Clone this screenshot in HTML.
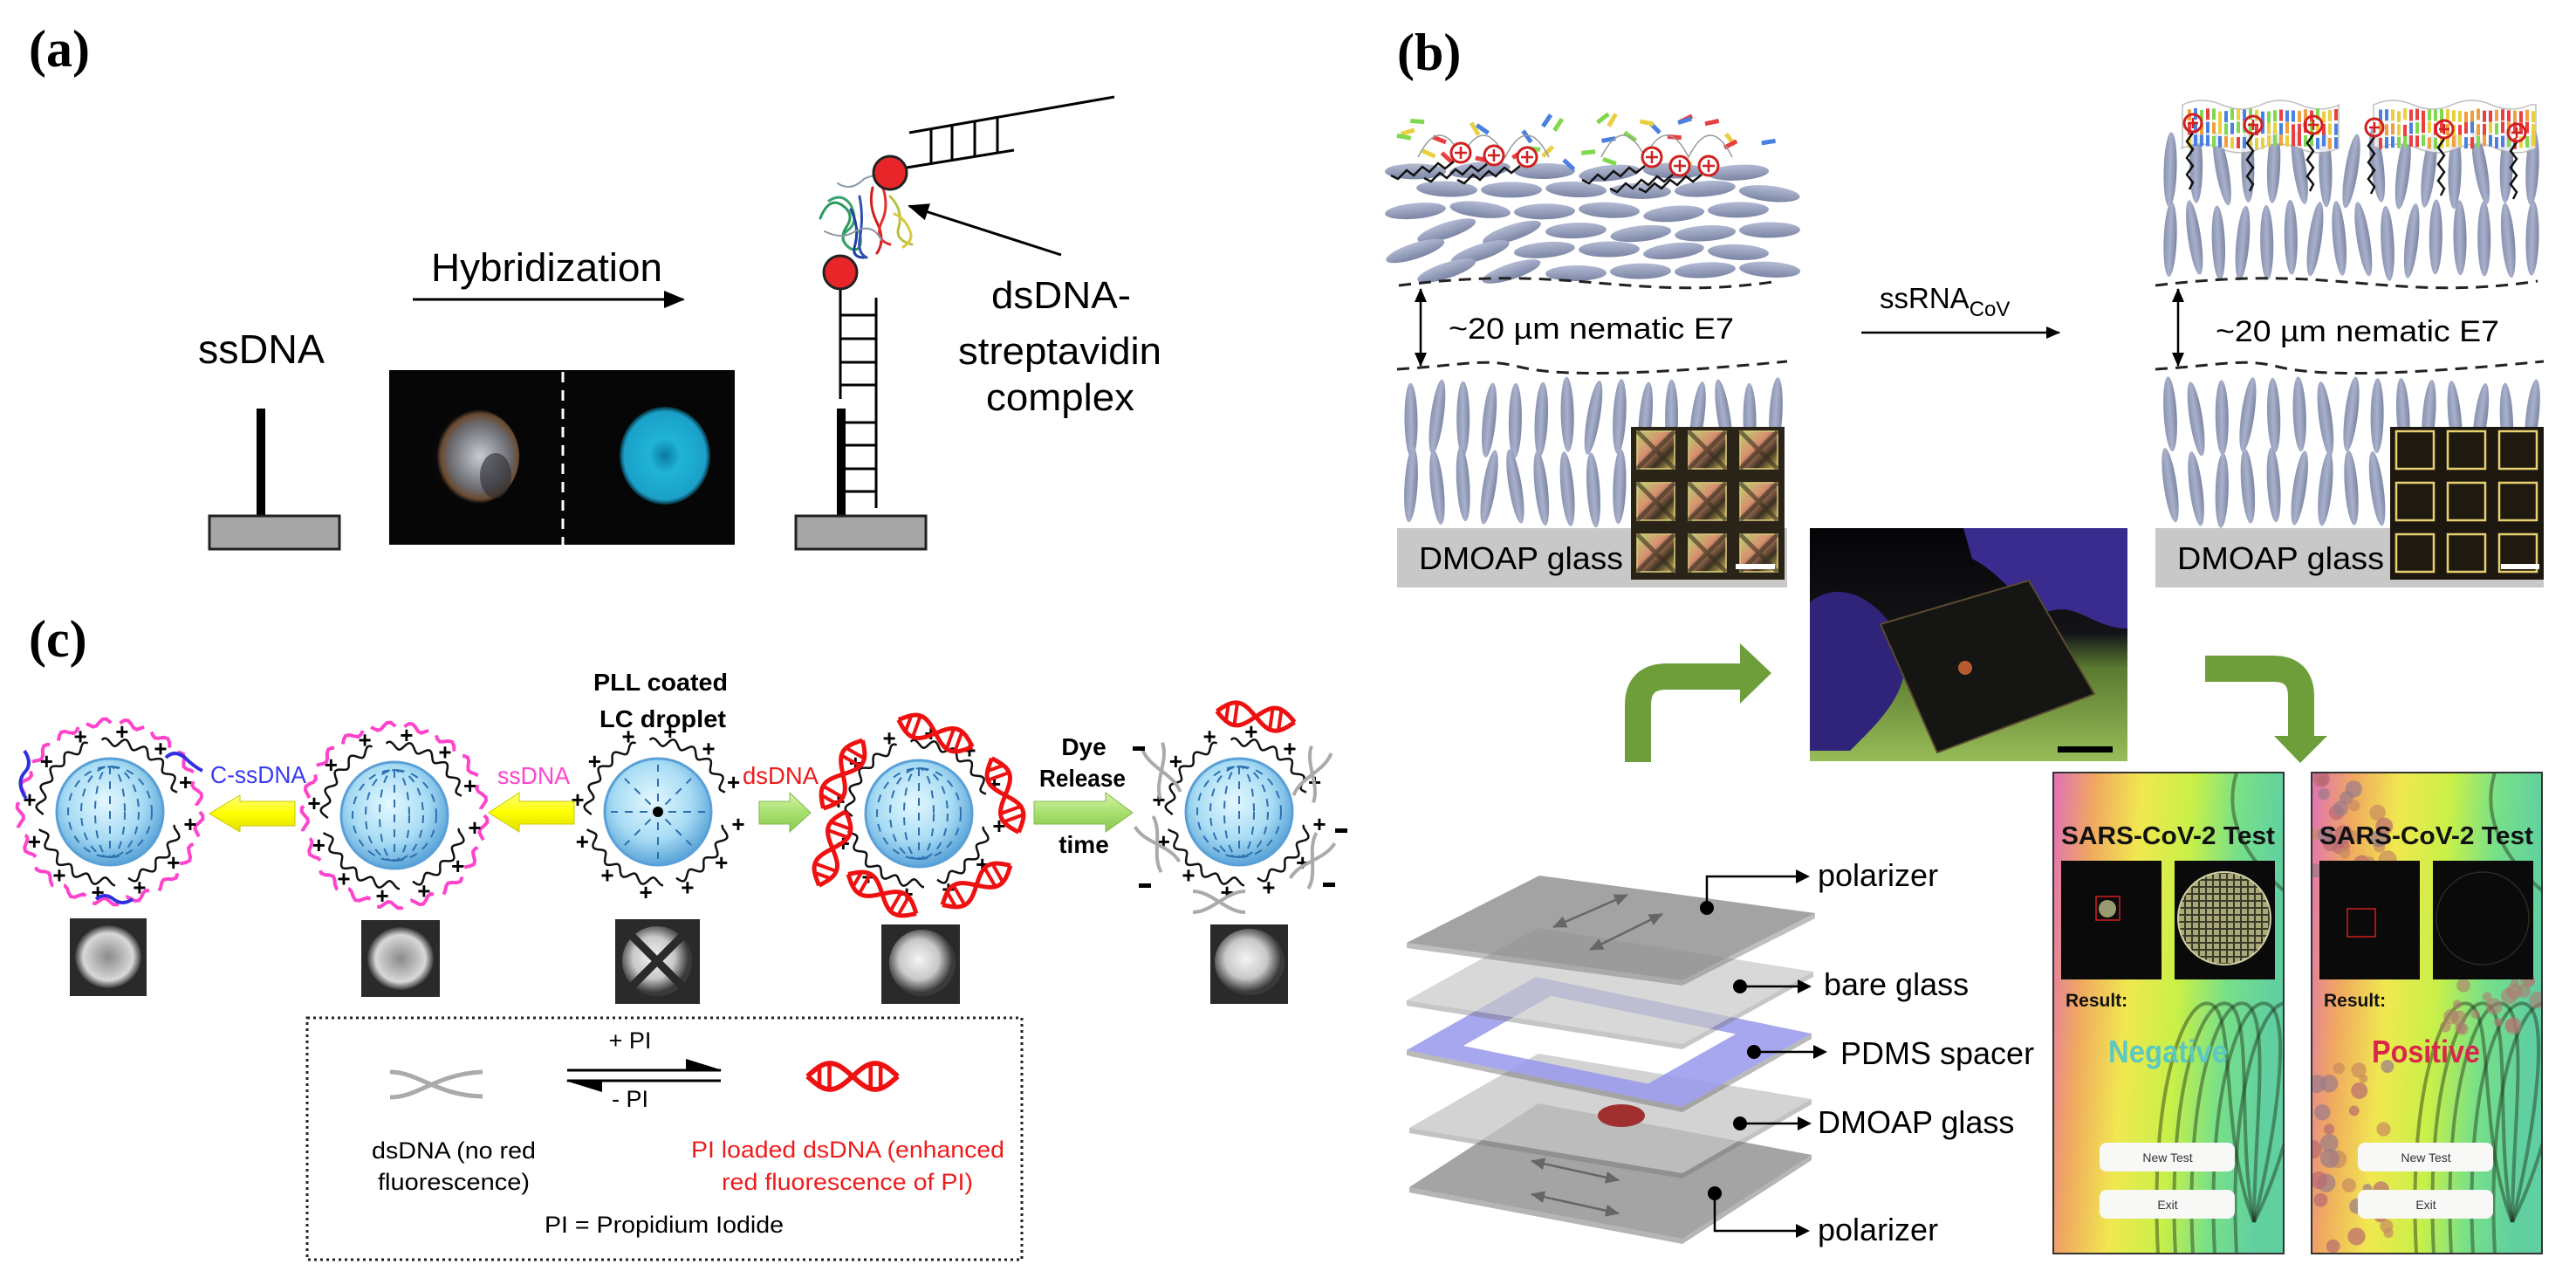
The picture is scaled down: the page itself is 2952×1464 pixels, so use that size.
<!DOCTYPE html>
<html><head><meta charset="utf-8">
<style>
html,body{margin:0;padding:0;background:#fff;}
svg{display:block;}
.s{font-family:"Liberation Sans",Arial,sans-serif;}
.r{font-family:"Liberation Serif","Times New Roman",serif;font-weight:bold;}
</style></head>
<body>
<svg id="root" width="2952" height="1464" viewBox="0 0 2952 1464" xmlns="http://www.w3.org/2000/svg">
<defs>
<radialGradient id="sph" cx="45%" cy="40%" r="60%">
<stop offset="0" stop-color="#e4f8ff"/><stop offset="0.6" stop-color="#a8dcf4"/><stop offset="1" stop-color="#5aa4d8"/>
</radialGradient>
<radialGradient id="blobw" cx="45%" cy="45%" r="50%">
<stop offset="0" stop-color="#f4f4f4"/><stop offset="0.6" stop-color="#c8c8c8"/><stop offset="1" stop-color="#3a3a3a"/>
</radialGradient>
<radialGradient id="blobg" cx="50%" cy="50%" r="50%">
<stop offset="0" stop-color="#8a8a8a"/><stop offset="0.75" stop-color="#d8d8d8"/><stop offset="1" stop-color="#3a3a3a"/>
</radialGradient>
<radialGradient id="cyan" cx="50%" cy="50%" r="50%">
<stop offset="0" stop-color="#0a7aa0"/><stop offset="0.35" stop-color="#20b4d8"/><stop offset="0.9" stop-color="#1aa0c8"/><stop offset="1" stop-color="#05303c"/>
</radialGradient>
<radialGradient id="gray1" cx="55%" cy="50%" r="50%">
<stop offset="0" stop-color="#c8ccd4"/><stop offset="0.7" stop-color="#6a6a70"/><stop offset="0.9" stop-color="#6a4a30"/><stop offset="1" stop-color="#080808"/>
</radialGradient>
<linearGradient id="ell" x1="0" y1="0" x2="0" y2="1">
<stop offset="0" stop-color="#b4bcd4"/><stop offset="1" stop-color="#7a84a4"/>
</linearGradient>
<linearGradient id="ellv" x1="0" y1="0" x2="1" y2="0">
<stop offset="0" stop-color="#8892b0"/><stop offset="0.5" stop-color="#a8b0ca"/><stop offset="1" stop-color="#7a84a4"/>
</linearGradient>
<linearGradient id="yel" x1="0" y1="0" x2="0" y2="1">
<stop offset="0" stop-color="#ffff80"/><stop offset="0.5" stop-color="#ffff00"/><stop offset="1" stop-color="#e0e000"/>
</linearGradient>
<linearGradient id="grn" x1="0" y1="0" x2="0" y2="1">
<stop offset="0" stop-color="#d8f4a8"/><stop offset="0.5" stop-color="#a8e070"/><stop offset="1" stop-color="#88c850"/>
</linearGradient>
<linearGradient id="phone" x1="0" y1="0" x2="1" y2="0.15">
<stop offset="0" stop-color="#e070b8"/><stop offset="0.18" stop-color="#f0a860"/><stop offset="0.38" stop-color="#f0e850"/><stop offset="0.6" stop-color="#c8f048"/><stop offset="0.8" stop-color="#78e088"/><stop offset="1" stop-color="#60d0a0"/>
</linearGradient>
<linearGradient id="photo" x1="0" y1="0" x2="0" y2="1">
<stop offset="0" stop-color="#050508"/><stop offset="0.45" stop-color="#141418"/><stop offset="0.6" stop-color="#5a7a30"/><stop offset="1" stop-color="#98bc58"/>
</linearGradient>
<linearGradient id="sqc" x1="0" y1="0" x2="1" y2="1">
<stop offset="0" stop-color="#b8d070"/><stop offset="0.4" stop-color="#d89070"/><stop offset="0.7" stop-color="#3a3020"/><stop offset="1" stop-color="#d8c060"/>
</linearGradient>
<pattern id="grid" width="8" height="8" patternUnits="userSpaceOnUse"><rect width="8" height="8" fill="#3a3a28"/><rect x="1" y="1" width="6" height="6" fill="#a8a878"/></pattern>
<marker id="ah" markerWidth="10" markerHeight="10" refX="9" refY="5" orient="auto" markerUnits="userSpaceOnUse"><path d="M0,0 L10,5 L0,10 z" fill="#000"/></marker>
<marker id="ahb" markerWidth="24" markerHeight="20" refX="22" refY="10" orient="auto" markerUnits="userSpaceOnUse"><path d="M0,0 L24,10 L0,20 z" fill="#000"/></marker>
<marker id="ahs" markerWidth="16" markerHeight="14" refX="15" refY="7" orient="auto-start-reverse" markerUnits="userSpaceOnUse"><path d="M0,0 L16,7 L0,14 z" fill="#000"/></marker>
<marker id="ahg" markerWidth="16" markerHeight="14" refX="15" refY="7" orient="auto-start-reverse" markerUnits="userSpaceOnUse"><path d="M0,0 L16,7 L0,14 z" fill="#666"/></marker>
<clipPath id="ph1"><rect x="2353" y="885" width="263" height="551"/></clipPath>
<clipPath id="ph2"><rect x="2649" y="885" width="264" height="551"/></clipPath>
</defs>

<!-- ============ PANEL A ============ -->
<text class="r" x="33" y="76" font-size="60">(a)</text>
<text class="s" x="494" y="322" font-size="45" textLength="265" lengthAdjust="spacingAndGlyphs">Hybridization</text>
<line x1="473" y1="343" x2="783" y2="343" stroke="#000" stroke-width="3" marker-end="url(#ahb)"/>
<text class="s" x="227" y="416" font-size="46" textLength="145" lengthAdjust="spacingAndGlyphs">ssDNA</text>
<rect x="294" y="468" width="10" height="123" fill="#000"/>
<rect x="240" y="591" width="149" height="38" fill="#a6a6a6" stroke="#222" stroke-width="3"/>
<rect x="446" y="424" width="396" height="200" fill="#060606"/>
<ellipse cx="545" cy="523" rx="50" ry="54" fill="url(#gray1)"/>
<ellipse cx="568" cy="545" rx="18" ry="26" fill="#2a2a30" opacity="0.6"/>
<ellipse cx="762" cy="522" rx="52" ry="56" fill="url(#cyan)"/>
<line x1="645" y1="426" x2="645" y2="624" stroke="#fff" stroke-width="3" stroke-dasharray="12 9"/>

<rect x="959" y="468" width="10" height="123" fill="#000"/>
<rect x="912" y="591" width="149" height="38" fill="#a6a6a6" stroke="#222" stroke-width="3"/>
<line x1="963" y1="330" x2="963" y2="457" stroke="#000" stroke-width="3"/>
<line x1="1004" y1="341" x2="1004" y2="582" stroke="#000" stroke-width="3"/>
<g stroke="#000" stroke-width="3">
<line x1="963" y1="361" x2="1004" y2="361"/><line x1="963" y1="388" x2="1004" y2="388"/><line x1="963" y1="415" x2="1004" y2="415"/><line x1="963" y1="441" x2="1004" y2="441"/>
<line x1="969" y1="484" x2="1004" y2="484"/><line x1="969" y1="510" x2="1004" y2="510"/><line x1="969" y1="537" x2="1004" y2="537"/><line x1="969" y1="563" x2="1004" y2="563"/>
<line x1="1039" y1="192" x2="1162" y2="172"/><line x1="1042" y1="152" x2="1277" y2="111"/>
<line x1="1067" y1="147" x2="1067" y2="187"/><line x1="1091" y1="143" x2="1091" y2="183"/><line x1="1117" y1="138" x2="1117" y2="179"/><line x1="1143" y1="134" x2="1143" y2="175"/>
</g>
<g fill="none" stroke-width="3" stroke-linecap="round">
<path d="M940,250 q10,-25 25,-15 q15,10 5,25 q-10,15 5,25 q15,5 10,-20" stroke="#2a9a5a"/>
<path d="M950,230 q15,-10 25,5 q10,20 -5,30 q-10,10 5,20" stroke="#3aa070"/>
<path d="M975,240 q10,20 5,40 q-5,15 10,15" stroke="#2040a0"/>
<path d="M985,225 q5,25 0,50 q-2,15 8,20" stroke="#3050b0"/>
<path d="M1000,215 q-5,20 5,40 q10,20 0,35" stroke="#d02020"/>
<path d="M1010,210 q10,25 0,45 q-8,20 10,25" stroke="#e03030"/>
<path d="M1020,225 q15,15 10,35 q-5,15 15,20" stroke="#b8c040"/>
<path d="M1025,245 q12,5 18,20 q4,10 -8,18" stroke="#d8c840"/>
<path d="M945,265 q20,10 35,0 q20,-10 30,10" stroke="#8a9aa8" stroke-width="2"/>
<path d="M960,210 q15,10 30,-5 q20,-10 40,5" stroke="#8a9aa8" stroke-width="2"/>
</g>
<circle cx="963" cy="312" r="19" fill="#e8262a" stroke="#222" stroke-width="3"/>
<circle cx="1020" cy="198" r="19" fill="#e8262a" stroke="#222" stroke-width="3"/>
<line x1="1216" y1="292" x2="1042" y2="236" stroke="#000" stroke-width="3" marker-end="url(#ahb)"/>
<text class="s" x="1136" y="353" font-size="44" textLength="160" lengthAdjust="spacingAndGlyphs">dsDNA-</text>
<text class="s" x="1098" y="417" font-size="44" textLength="233" lengthAdjust="spacingAndGlyphs">streptavidin</text>
<text class="s" x="1130" y="470" font-size="44" textLength="170" lengthAdjust="spacingAndGlyphs">complex</text>

<!-- ============ PANEL C ============ -->
<text class="r" x="33" y="752" font-size="60">(c)</text>
<g id="cdyn"></g>
<text class="s" x="241" y="897" font-size="28" fill="#3b3bf0" textLength="110" lengthAdjust="spacingAndGlyphs">C-ssDNA</text>
<text class="s" x="570" y="898" font-size="28" fill="#ff44cc" textLength="83" lengthAdjust="spacingAndGlyphs">ssDNA</text>
<text class="s" x="680" y="791" font-size="28" font-weight="bold" textLength="154" lengthAdjust="spacingAndGlyphs">PLL coated</text>
<text class="s" x="687" y="833" font-size="28" font-weight="bold" textLength="145" lengthAdjust="spacingAndGlyphs">LC droplet</text>
<text class="s" x="851" y="898" font-size="28" fill="#ee1c1c" textLength="87" lengthAdjust="spacingAndGlyphs">dsDNA</text>
<text class="s" x="1242" y="865" font-size="28" font-weight="bold" text-anchor="middle">Dye</text>
<text class="s" x="1191" y="901" font-size="28" font-weight="bold" textLength="99" lengthAdjust="spacingAndGlyphs">Release</text>
<text class="s" x="1242" y="977" font-size="28" font-weight="bold" text-anchor="middle">time</text>
<path d="M338,918 L275,918 L275,911 L240,932 L275,953 L275,946 L338,946 z" fill="url(#yel)" stroke="#c8c800" stroke-width="1"/>
<path d="M658,918 L595,918 L595,908 L560,931 L595,953 L595,944 L658,944 z" fill="url(#yel)" stroke="#c8c800" stroke-width="1"/>
<path d="M870,918 L905,918 L905,908 L929,931 L905,953 L905,944 L870,944 z" fill="url(#grn)" stroke="#80b850" stroke-width="1"/>
<path d="M1185,918 L1267,918 L1267,908 L1298,931 L1267,953 L1267,944 L1185,944 z" fill="url(#grn)" stroke="#80b850" stroke-width="1"/>
<rect x="80" y="1052" width="88" height="89" fill="#2a2a2a"/><ellipse cx="124" cy="1096" rx="38" ry="36" fill="url(#blobg)"/>
<rect x="414" y="1054" width="90" height="88" fill="#2a2a2a"/><ellipse cx="459" cy="1098" rx="38" ry="36" fill="url(#blobg)"/>
<rect x="705" y="1053" width="97" height="97" fill="#2a2a2a"/><circle cx="753" cy="1101" r="40" fill="url(#blobw)"/>
<g stroke="#2a2a2a" stroke-width="9" stroke-linecap="round" transform="rotate(45 753 1101)"><line x1="753" y1="1101" x2="753" y2="1060"/><line x1="753" y1="1101" x2="792" y2="1101"/><line x1="753" y1="1101" x2="753" y2="1142"/><line x1="753" y1="1101" x2="714" y2="1101"/></g>
<rect x="1010" y="1059" width="90" height="91" fill="#2a2a2a"/><circle cx="1057" cy="1103" r="38" fill="url(#blobw)"/>
<rect x="1387" y="1059" width="89" height="91" fill="#2a2a2a"/><ellipse cx="1432" cy="1102" rx="40" ry="38" fill="url(#blobw)"/>
<rect x="352" y="1166" width="819" height="277" fill="none" stroke="#222" stroke-width="3" stroke-dasharray="3 4"/>
<path d="M447,1228 C480,1228 500,1255 553,1256 M447,1257 C480,1257 500,1230 553,1228" fill="none" stroke="#aaa" stroke-width="5"/>
<line x1="650" y1="1226" x2="826" y2="1226" stroke="#000" stroke-width="3"/>
<path d="M786,1213 L828,1226 L786,1226 z" fill="#000"/>
<line x1="650" y1="1238" x2="826" y2="1238" stroke="#000" stroke-width="3"/>
<path d="M690,1251 L648,1238 L690,1238 z" fill="#000"/>
<text class="s" x="722" y="1201" font-size="27" text-anchor="middle">+ PI</text>
<text class="s" x="722" y="1268" font-size="27" text-anchor="middle">- PI</text>
<text class="s" x="426" y="1327" font-size="27" textLength="188" lengthAdjust="spacingAndGlyphs">dsDNA (no red</text>
<text class="s" x="433" y="1363" font-size="27" textLength="174" lengthAdjust="spacingAndGlyphs">fluorescence)</text>
<text class="s" x="792" y="1326" font-size="27" fill="#ee1c1c" textLength="359" lengthAdjust="spacingAndGlyphs">PI loaded dsDNA (enhanced</text>
<text class="s" x="827" y="1363" font-size="27" fill="#ee1c1c" textLength="288" lengthAdjust="spacingAndGlyphs">red fluorescence of PI)</text>
<text class="s" x="624" y="1412" font-size="27" textLength="274" lengthAdjust="spacingAndGlyphs">PI = Propidium Iodide</text>

<!-- ============ PANEL B ============ -->
<text class="r" x="1601" y="80" font-size="60">(b)</text>
<g id="bdyn"></g>
<g fill="none" stroke="#222" stroke-width="3" stroke-dasharray="14 9">
<path d="M1603,327 C1700,315 1760,318 1830,324 S1960,334 2038,322"/>
<path d="M1601,423 C1680,418 1700,410 1740,420 S1860,432 2048,414"/>
<path d="M2470,327 C2570,315 2630,318 2700,324 S2830,334 2908,322"/>
<path d="M2470,423 C2550,418 2570,410 2610,420 S2730,432 2915,414"/>
</g>
<line x1="1628" y1="331" x2="1628" y2="419" stroke="#000" stroke-width="2.5" marker-start="url(#ahs)" marker-end="url(#ahs)"/>
<line x1="2496" y1="331" x2="2496" y2="419" stroke="#000" stroke-width="2.5" marker-start="url(#ahs)" marker-end="url(#ahs)"/>
<text class="s" x="1660" y="388" font-size="34" textLength="327" lengthAdjust="spacingAndGlyphs">~20 µm nematic E7</text>
<text class="s" x="2539" y="391" font-size="34" textLength="325" lengthAdjust="spacingAndGlyphs">~20 µm nematic E7</text>
<rect x="1601" y="605" width="447" height="68" fill="#c8c8c8"/>
<rect x="2470" y="605" width="445" height="68" fill="#c8c8c8"/>
<text class="s" x="1626" y="652" font-size="36" textLength="234" lengthAdjust="spacingAndGlyphs">DMOAP glass</text>
<text class="s" x="2495" y="652" font-size="36" textLength="237" lengthAdjust="spacingAndGlyphs">DMOAP glass</text>
<rect x="1869" y="489" width="176" height="175" fill="#2a2418"/>
<rect x="2739" y="489" width="176" height="175" fill="#1c1810"/>
<g id="insets"></g>
<rect x="1989" y="646" width="45" height="6" fill="#fff"/>
<rect x="2866" y="646" width="44" height="6" fill="#fff"/>
<text class="s" x="2154" y="353" font-size="33">ssRNA<tspan font-size="24" dy="9">CoV</tspan></text>
<line x1="2133" y1="381" x2="2360" y2="381" stroke="#000" stroke-width="2.5" marker-end="url(#ahs)"/>
<rect x="2074" y="605" width="364" height="267" fill="url(#photo)"/>
<path d="M2074,690 C2110,660 2160,690 2180,740 C2195,790 2150,830 2120,860 L2074,860 z" fill="#30247a"/>
<path d="M2250,605 L2438,605 L2438,720 C2400,720 2380,690 2350,700 C2320,705 2300,660 2260,640 z" fill="#3a2c8e"/>
<path d="M2155,715 L2325,665 L2400,795 L2220,862 z" fill="#151513" stroke="#5a4a30" stroke-width="2"/>
<circle cx="2252" cy="765" r="8" fill="#b85a30"/>
<rect x="2358" y="855" width="63" height="7" fill="#000"/>
<path d="M1877,873 L1877,808 Q1877,775 1910,775 L1996,775" fill="none" stroke="#6e9e3a" stroke-width="30"/>
<path d="M1994,737 L2030,771 L1994,806 z" fill="#6e9e3a"/>
<path d="M2527,766 L2605,766 Q2637,766 2637,798 L2637,845" fill="none" stroke="#6e9e3a" stroke-width="30"/>
<path d="M2606,843 L2667,843 L2636,874 z" fill="#6e9e3a"/>
<g id="layers"></g>
<g stroke="#000" stroke-width="2.5" fill="none">
<polyline points="1956,1040 1956,1004 2060,1004"/>
<line x1="1994" y1="1130" x2="2062" y2="1130"/>
<line x1="2010" y1="1205" x2="2080" y2="1205"/>
<line x1="1994" y1="1287" x2="2062" y2="1287"/>
<polyline points="1965,1367 1965,1410 2060,1410"/>
</g>
<g fill="#000">
<path d="M2058,996 L2074,1004 L2058,1012 z"/><path d="M2060,1122 L2076,1130 L2060,1138 z"/><path d="M2078,1197 L2094,1205 L2078,1213 z"/><path d="M2060,1279 L2076,1287 L2060,1295 z"/><path d="M2058,1402 L2074,1410 L2058,1418 z"/>
<circle cx="1956" cy="1040" r="8"/><circle cx="1994" cy="1130" r="8"/><circle cx="2010" cy="1205" r="8"/><circle cx="1994" cy="1287" r="8"/><circle cx="1965" cy="1367" r="8"/>
</g>
<text class="s" x="2083" y="1015" font-size="36">polarizer</text>
<text class="s" x="2090" y="1140" font-size="36">bare glass</text>
<text class="s" x="2109" y="1219" font-size="36">PDMS spacer</text>
<text class="s" x="2083" y="1298" font-size="36">DMOAP glass</text>
<text class="s" x="2083" y="1421" font-size="36">polarizer</text>
<g id="phones"></g>
<g class="s" font-weight="bold">
<text x="2362" y="967" font-size="29" textLength="245" lengthAdjust="spacingAndGlyphs" fill="#111">SARS-CoV-2 Test</text>
<text x="2658" y="967" font-size="29" textLength="245" lengthAdjust="spacingAndGlyphs" fill="#111">SARS-CoV-2 Test</text>
<text x="2367" y="1153" font-size="21" fill="#111">Result:</text>
<text x="2663" y="1153" font-size="21" fill="#111">Result:</text>
<text x="2416" y="1217" font-size="36" fill="#5cc8c0" textLength="137" lengthAdjust="spacingAndGlyphs">Negative</text>
<text x="2718" y="1217" font-size="36" fill="#d8284a" textLength="124" lengthAdjust="spacingAndGlyphs">Positive</text>
</g>
<g class="s" font-size="14" fill="#333" text-anchor="middle">
<text x="2484" y="1331">New Test</text><text x="2484" y="1385">Exit</text>
<text x="2780" y="1331">New Test</text><text x="2780" y="1385">Exit</text>
</g>
</svg>
<script>
(function(){
var NS='http://www.w3.org/2000/svg';
function el(tag,a,p){var e=document.createElementNS(NS,tag);for(var k in a)e.setAttribute(k,a[k]);p.appendChild(e);return e;}
var seed=7;function rnd(){seed=(seed*9301+49297)%233280;return seed/233280;}
function wavy(cx,cy,r,amp,n,a0,a1){var d='',S=160;for(var i=0;i<=S;i++){var t=a0+(a1-a0)*i/S,rr=r+amp*Math.sin(n*t);d+=(i?'L':'M')+(cx+rr*Math.cos(t)).toFixed(1)+' '+(cy+rr*Math.sin(t)).toFixed(1);}return d;}
var C=document.getElementById('cdyn');
function dna(x,y,rot,s,col,p){var g=el('g',{transform:'translate('+x+','+y+') rotate('+rot+') scale('+s+')'},p);
 var d1='',d2='';for(var i=0;i<=40;i++){var xx=-45+i*90/40,yy=13*Math.sin(xx/45*Math.PI);d1+=(i?'L':'M')+xx.toFixed(1)+' '+yy.toFixed(1);d2+=(i?'L':'M')+xx.toFixed(1)+' '+(-yy).toFixed(1);}
 el('path',{d:d1,fill:'none',stroke:col,'stroke-width':5},g);el('path',{d:d2,fill:'none',stroke:col,'stroke-width':5},g);
 [-33,-23,18,28].forEach(function(xx){var yy=13*Math.sin(xx/45*Math.PI);el('line',{x1:xx,y1:yy,x2:xx,y2:-yy,stroke:col,'stroke-width':4},g);});}
function xs(x,y,rot,s,p){var g=el('g',{transform:'translate('+x+','+y+') rotate('+rot+') scale('+s+')'},p);
 el('path',{d:'M-30,-12 C-8,-12 8,12 30,12 M-30,12 C-8,12 8,-12 30,-12',fill:'none',stroke:'#aaa','stroke-width':4},g);}
function droplet(cx,cy,type,pink){
 if(pink)el('path',{d:wavy(cx,cy,103,4,26,0,2*Math.PI),fill:'none',stroke:'#ff44cc','stroke-width':4,'stroke-dasharray':'34 12'},C);
 var segs=[[0.2,1.3],[1.5,2.9],[3.1,4.4],[4.6,6.0]];
 segs.forEach(function(s){el('path',{d:wavy(cx,cy,80,4.5,22,s[0],s[1]),fill:'none',stroke:'#111','stroke-width':2.5},C);});
 el('circle',{cx:cx,cy:cy,r:61,fill:'url(#sph)',stroke:'#5aa0d8','stroke-width':3},C);
 var st={fill:'none',stroke:'#2f6fb0','stroke-width':2,'stroke-dasharray':'9 8'};
 if(type=='r'){for(var k=0;k<8;k++){var a=k*Math.PI/4;var o=Object.assign({x1:cx+12*Math.cos(a),y1:cy+12*Math.sin(a),x2:cx+54*Math.cos(a),y2:cy+54*Math.sin(a)},st);el('line',o,C);}el('circle',{cx:cx,cy:cy,r:6,fill:'#000'},C);}
 else{el('line',Object.assign({x1:cx,y1:cy-52,x2:cx,y2:cy+52},st),C);[17,33,48].forEach(function(rx){el('ellipse',Object.assign({cx:cx,cy:cy,rx:rx,ry:52},st),C);});}
 for(var k=0;k<12;k++){var a=-Math.PI/2+k*Math.PI/6+0.15;var t=el('text',{x:(cx+93*Math.cos(a)).toFixed(1),y:(cy+93*Math.sin(a)+9).toFixed(1),'font-size':26,'font-weight':'bold','text-anchor':'middle','font-family':'Liberation Sans, sans-serif'},C);t.textContent='+';}
}
droplet(126,930,'b',true);droplet(452,934,'b',true);droplet(754,930,'r',false);droplet(1053,932,'b',false);droplet(1420,930,'b',false);
[['M28,860 q10,15 0,25 q-10,12 2,30'],['M190,868 q10,-10 22,0 q10,10 20,15'],['M110,1030 q10,-8 20,0 q10,8 22,0']].forEach(function(p){el('path',{d:p[0],fill:'none',stroke:'#3030e0','stroke-width':4},C);});
[[1072,840,20],[966,887,-60],[1152,911,70],[954,972,-70],[1011,1024,30],[1119,1014,-30],[1439,821,8]].forEach(function(q){dna(q[0],q[1],q[2],1,'#ee1111',C);});
dna(977,1233,0,1.15,'#ee1111',C);
[[1331,883,70],[1326,967,60],[1397,1033,0],[1504,887,-70],[1504,986,-60]].forEach(function(q){xs(q[0],q[1],q[2],1,C);});
[[1305,857],[1312,1014],[1537,951],[1523,1013]].forEach(function(q){el('rect',{x:q[0]-7,y:q[1]-2,width:14,height:5,fill:'#000'},C);});
var B=document.getElementById('bdyn');
for(var r=0;r<6;r++){var y=196+r*23;for(var x=1622+(r%2)*36;x<2035;x+=74){var rot=(rnd()-0.5)*14;if(r>=3&&x<1760)rot=-18;el('ellipse',{cx:x,cy:y+(rnd()-0.5)*6,rx:35,ry:9,fill:'url(#ell)',transform:'rotate('+rot.toFixed(1)+' '+x+' '+y+')'},B);}}
var cols=['#e84040','#4a80e0','#80d850','#e8d040'];
[[1600,1800],[1810,2040]].forEach(function(rg){for(var i=0;i<16;i++){var x=rg[0]+rnd()*(rg[1]-rg[0]),y=135+rnd()*50;el('rect',{x:x,y:y,width:16,height:5,fill:cols[i%4],transform:'rotate('+(rnd()*120-60).toFixed(0)+' '+x+' '+y+')'},B);}
 el('path',{d:'M'+(rg[0]+25)+',180 q25,-50 50,0 q25,-50 50,0 q25,-50 50,0',fill:'none',stroke:'#999','stroke-width':1.5},B);});
[[1674,175],[1712,178],[1750,180],[1893,180],[1925,190],[1958,190]].forEach(function(c,i){
 el('path',{d:'M'+(c[0]-8)+','+(c[1]+10)+' l-10,8 l-8,-6 l-10,10 l-8,-6 l-10,10 l-8,-6 l-10,10 l-8,-4',fill:'none',stroke:'#111','stroke-width':2.5},B);
 el('circle',{cx:c[0],cy:c[1],r:11,fill:'#fff',stroke:'#d02020','stroke-width':3},B);
 el('path',{d:'M'+(c[0]-7)+','+c[1]+' h14 M'+c[0]+','+(c[1]-7)+' v14',stroke:'#d02020','stroke-width':2.5},B);});
function vrow(x0,x1,cy,n){for(var i=0;i<n;i++){var x=x0+(x1-x0)*i/(n-1),rot=(rnd()-0.5)*20,yy=cy+(rnd()-0.5)*8;el('ellipse',{cx:x.toFixed(1),cy:yy.toFixed(1),rx:7.5,ry:43,fill:'url(#ellv)',transform:'rotate('+rot.toFixed(1)+' '+x.toFixed(1)+' '+yy.toFixed(1)+')'},B);}}
vrow(1617,2035,478,15);vrow(1617,2035,558,15);vrow(2487,2902,478,15);vrow(2487,2902,558,15);
vrow(2487,2902,275,16);vrow(2487,2902,193,15);
[[2501,2680],[2720,2906]].forEach(function(rg){el('path',{d:'M'+rg[0]+',120 q22,-10 45,0 t45,0 t45,0 t45,0 L'+rg[1]+',120 L'+rg[1]+',170 q-22,10 -45,0 t-45,0 t-45,0 t-45,0 L'+rg[0]+',168 z',fill:'#fff',opacity:0.75,stroke:'#aaa','stroke-width':1.5},B);
 for(var x=rg[0]+6;x<rg[1]-4;x+=7){for(var j=0;j<3;j++){el('rect',{x:x,y:124+j*15+rnd()*4,width:4,height:13,fill:['#e84040','#4a80e0','#80d850','#e8d040','#f0a040'][Math.floor(rnd()*5)]},B);}}});
[[2513,141],[2582,143],[2651,143],[2721,146],[2801,148],[2884,152]].forEach(function(c){
 el('path',{d:'M'+c[0]+','+(c[1]+11)+' l-7,10 l7,9 l-7,10 l7,9 l-7,10 l7,9 l-4,8',fill:'none',stroke:'#111','stroke-width':2.5},B);
 el('circle',{cx:c[0],cy:c[1],r:10,fill:'none',stroke:'#d02020','stroke-width':3},B);
 el('path',{d:'M'+(c[0]-6)+','+c[1]+' h12 M'+c[0]+','+(c[1]-6)+' v12',stroke:'#d02020','stroke-width':2.5},B);});
var I=document.getElementById('insets');
for(var i=0;i<3;i++)for(var j=0;j<3;j++){
 el('rect',{x:1876+i*59,y:494+j*59,width:43,height:43,fill:'url(#sqc)',stroke:'#e0d080','stroke-width':1.5},I);
 el('path',{d:'M'+(1876+i*59)+','+(494+j*59)+' l43,43 M'+(1919+i*59)+','+(494+j*59)+' l-43,43',stroke:'#3a3020','stroke-width':5,opacity:0.6},I);
 el('rect',{x:2746+i*59,y:494+j*59,width:43,height:43,fill:'#1e1a10',stroke:'#e8d070','stroke-width':2.5},I);}
var L=document.getElementById('layers');
function para(Lp,R,Bp,fill,op,hole){var T=[Lp[0]+R[0]-Bp[0],Lp[1]+R[1]-Bp[1]];
 function P(u,v){return [Lp[0]+u*(Bp[0]-Lp[0])+v*(T[0]-Lp[0]),Lp[1]+u*(Bp[1]-Lp[1])+v*(T[1]-Lp[1])];}
 var d='M'+Lp+' L'+T+' L'+R+' L'+Bp+' z';
 if(hole){var a=P(0.13,0.16),b=P(0.13,0.84),c=P(0.8,0.84),e=P(0.8,0.16);d+=' M'+a+' L'+b+' L'+c+' L'+e+' z';}
 el('path',{d:d,fill:fill,opacity:op,'fill-rule':'evenodd'},L);
 el('path',{d:'M'+Lp+' L'+Bp+' L'+R+' L'+[R[0],R[1]+6]+' L'+[Bp[0],Bp[1]+6]+' L'+[Lp[0],Lp[1]+6]+' z',fill:'#777',opacity:op*0.6},L);}
para([1615,1360],[2076,1323],[1928,1419],'#9a9a9a',0.9);
para([1615,1292],[2076,1259],[1928,1344],'#c4c4c4',0.75);
el('ellipse',{cx:1858,cy:1278,rx:27,ry:13,fill:'#a03030'},L);
para([1612,1203],[2076,1184],[1928,1268],'#9898ec',0.85,true);
para([1612,1146],[2078,1113],[1928,1196],'#c8c8c8',0.7);
para([1612,1080],[2080,1046],[1928,1123],'#8c8c8c',0.8);
[[1780,1062,1865,1025],[1822,1088,1905,1047],[1755,1330,1855,1352],[1755,1368,1855,1390]].forEach(function(q){el('line',{x1:q[0],y1:q[1],x2:q[2],y2:q[3],stroke:'#666','stroke-width':2.5,'marker-start':'url(#ahg)','marker-end':'url(#ahg)'},L);});
var P=document.getElementById('phones');
[[2353,'ph1',false],[2649,'ph2',true]].forEach(function(q){var x=q[0];var g=el('g',{'clip-path':'url(#'+q[1]+')'},P);
 el('rect',{x:x,y:885,width:264,height:551,fill:'url(#phone)'},g);
 var sw=[[120,0],[140,10],[160,22],[185,35],[210,48]];
 sw.forEach(function(s,k){el('path',{d:'M'+(x+s[0])+',1436 C'+(x+s[0]-10)+',1250 '+(x+s[0]+30)+',1140 '+(x+s[0]+60)+',1150 C'+(x+s[0]+90)+',1160 '+(x+s[0]+70)+',1300 '+(x+230)+',1400',fill:'none',stroke:'#203018','stroke-width':4,opacity:0.45},g);});
 el('path',{d:'M'+(x+210)+',885 C'+(x+190)+',950 '+(x+240)+',1000 '+(x+264)+',1020',fill:'none',stroke:'#203018','stroke-width':4,opacity:0.45},g);
 if(q[2]){for(var i=0;i<60;i++){var cx=x+rnd()*90,cy=(i<30?890+rnd()*140:1220+rnd()*210);el('circle',{cx:cx,cy:cy,r:5+rnd()*6,fill:['#b86a70','#c88a60','#9a7a8a'][i%3],opacity:0.7},g);}
  for(var i=0;i<20;i++){el('circle',{cx:x+150+rnd()*110,cy:1120+rnd()*60,r:5+rnd()*5,fill:'#b07a70',opacity:0.6},g);}}
 el('rect',{x:x+9,y:986,width:115,height:136,fill:'#0a0a0a'},g);
 el('rect',{x:x+139,y:986,width:115,height:136,fill:'#0a0a0a'},g);
 if(!q[2]){el('circle',{cx:x+196,cy:1052,r:53,fill:'url(#grid)',stroke:'#cfcfa0','stroke-width':2},g);
  el('circle',{cx:x+62,cy:1041,r:10,fill:'#9a9a70'},g);el('rect',{x:x+49,y:1027,width:27,height:27,fill:'none',stroke:'#d02020','stroke-width':1.5},g);}
 else{el('circle',{cx:x+196,cy:1052,r:53,fill:'none',stroke:'#2a2a22','stroke-width':1.5},g);el('rect',{x:x+41,y:1041,width:32,height:32,fill:'none',stroke:'#d02020','stroke-width':1.5},g);}
 el('rect',{x:x+53,y:1309,width:155,height:33,rx:8,fill:'#f8f8f6'},g);
 el('rect',{x:x+53,y:1363,width:155,height:33,rx:8,fill:'#f8f8f6'},g);
 el('rect',{x:x,y:885,width:264,height:551,fill:'none',stroke:'#333','stroke-width':2},P);});
})();
</script>
</body></html>
